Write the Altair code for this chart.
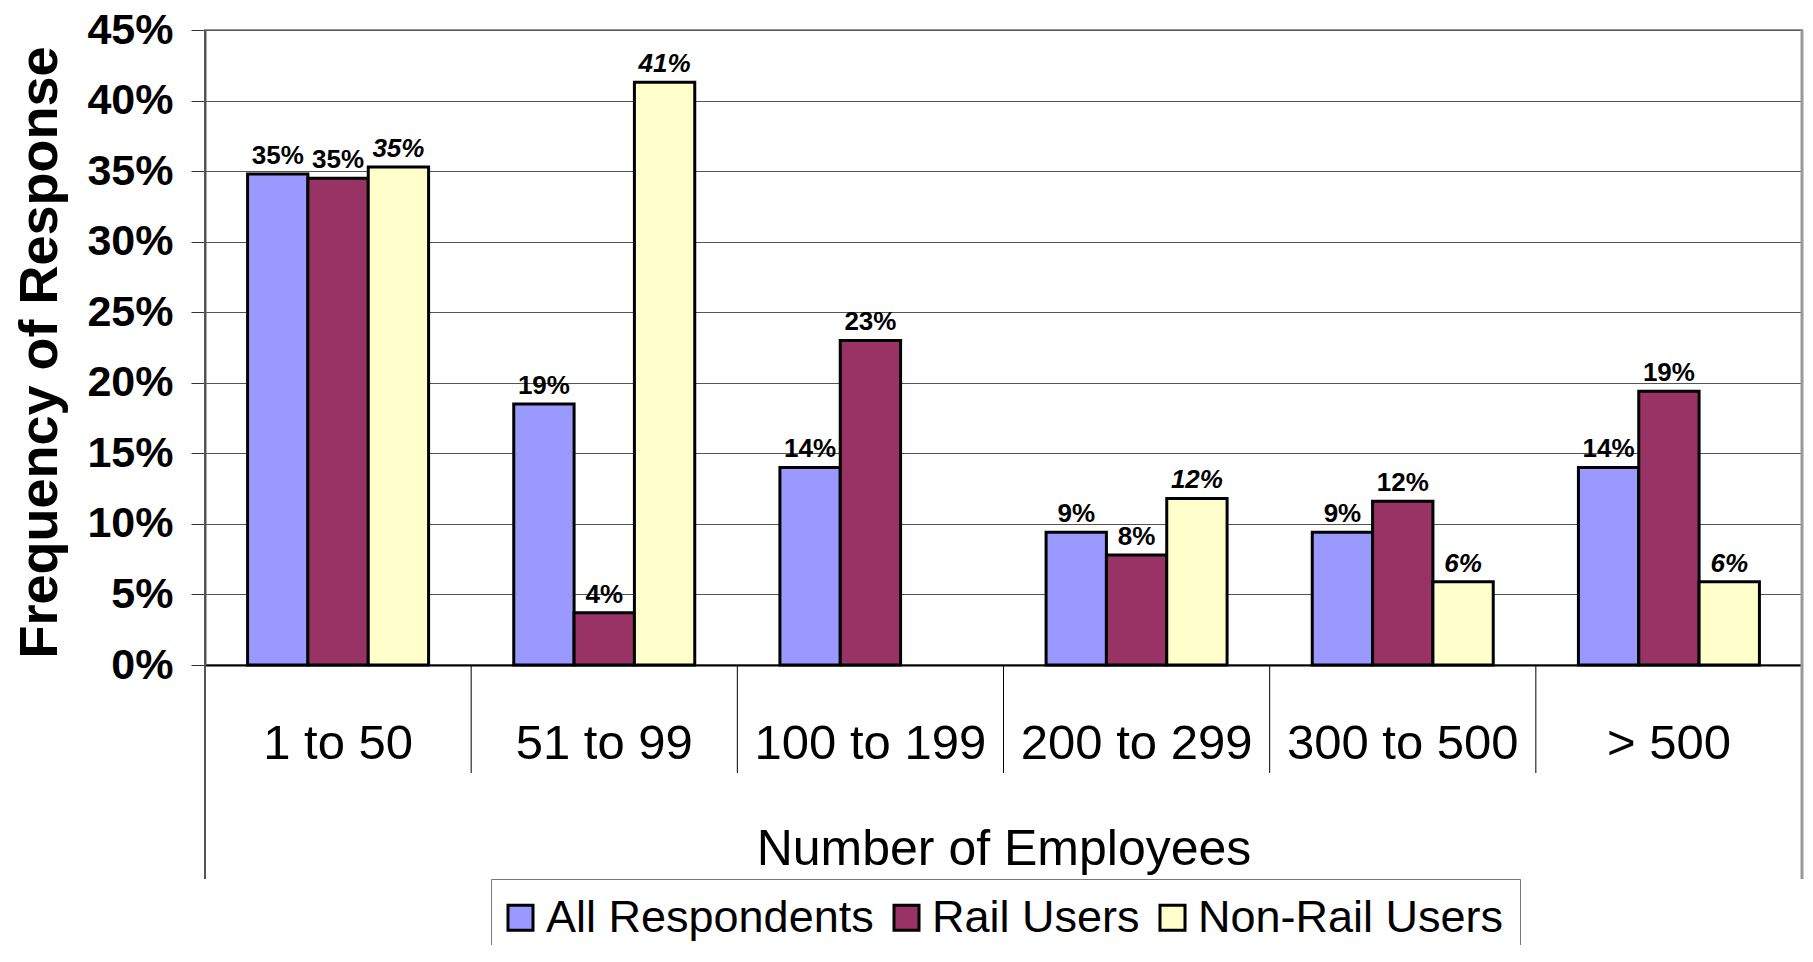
import altair as alt
import pandas as pd

categories = ["1 to 50", "51 to 99", "100 to 199", "200 to 299", "300 to 500", "> 500"]
series = ["All Respondents", "Rail Users", "Non-Rail Users"]
all_resp = [34.8, 18.5, 14.0, 9.4, 9.4, 14.0]
rail = [34.5, 3.7, 23.0, 7.8, 11.6, 19.4]
nonrail = [35.3, 41.3, 0.0, 11.8, 5.9, 5.9]
colors = ["#9999FF", "#993366", "#FFFFCC"]
y_ticks = [0, 5, 10, 15, 20, 25, 30, 35, 40, 45]
inner_bounds = [1, 2, 3, 4, 5]
left_bound = [0]
right_bound = [6]

rows = []
for s, vals in zip(series, [all_resp, rail, nonrail]):
    for c, v in zip(categories, vals):
        rows.append({"cat": c, "series": s, "value": v})
df = pd.DataFrame(rows)
df = df[df["value"] > 0]

W, H = 1597, 635
FONT = "Liberation Sans"

x_enc = alt.X(
    "cat:N", sort=categories,
    scale=alt.Scale(domain=categories, paddingInner=0.32, paddingOuter=0.16),
    axis=alt.Axis(
        title="Number of Employees", labelAngle=0, ticks=False,
        labelPadding=93, labelBaseline="alphabetic", labelFontSize=49,
        labelFont=FONT, labelColor="black", labelOverlap=False, labelLimit=1000,
        domainColor="black", domainWidth=2,
        titleFont=FONT, titleFontSize=50, titleFontWeight="normal", titleColor="black",
        titleY=199, titleBaseline="alphabetic",
    ),
)
xo_enc = alt.XOffset("series:N", sort=series, scale=alt.Scale(domain=series))
y_enc = alt.Y(
    "value:Q",
    scale=alt.Scale(domain=[0, 45], nice=False, zero=True),
    axis=alt.Axis(
        values=y_ticks, labelExpr="datum.value + '%'",
        title="Frequency of Response",
        labelFont=FONT, labelFontSize=43, labelFontWeight="bold", labelColor="black",
        labelPadding=18, tickSize=14, tickColor="#333", tickWidth=1,
        domainColor="#555", domainWidth=2,
        grid=True, gridColor="#555", gridWidth=1,
        titleFont=FONT, titleFontSize=54, titleFontWeight="bold", titleColor="black",
        titleAngle=270, titleX=-149, titleY=322, titleAlign="center",
        titleBaseline="alphabetic",
    ),
)

base = alt.Chart(df)

bars = base.mark_bar(stroke="black", strokeWidth=3).encode(
    x=x_enc, xOffset=xo_enc, y=y_enc,
    color=alt.Color(
        "series:N", scale=alt.Scale(domain=series, range=colors),
        legend=alt.Legend(
            title=None, orient="none", legendX=286, legendY=849,
            direction="horizontal", symbolType="square", symbolSize=625,
            symbolStrokeColor="black", symbolStrokeWidth=3, symbolOpacity=1,
            symbolOffset=-9,
            labelFont=FONT, labelFontSize=45, labelColor="black", labelLimit=1000,
            labelOffset=3, columnPadding=14, padding=16,
            strokeColor="#777", fillColor="white",
        ),
    ),
)

label_expr = "round(datum.value) + '%'"
text_plain = base.transform_filter(
    alt.datum.series != "Non-Rail Users"
).transform_calculate(lbl=label_expr).mark_text(
    font=FONT, fontSize=26, fontWeight="bold", baseline="alphabetic", dy=-10, color="black"
).encode(x=x_enc, xOffset=xo_enc, y=y_enc, text="lbl:N")

text_ital = base.transform_filter(
    alt.datum.series == "Non-Rail Users"
).transform_calculate(lbl=label_expr).mark_text(
    font=FONT, fontSize=26, fontWeight="bold", fontStyle="italic",
    baseline="alphabetic", dy=-10, color="black"
).encode(x=x_enc, xOffset=xo_enc, y=y_enc, text="lbl:N")

main = alt.layer(bars, text_plain, text_ital)

sep_scale = alt.Scale(domain=[0, 6], nice=False, zero=False)

sep = alt.Chart(pd.DataFrame({"b": inner_bounds})).mark_rule(color="black", strokeWidth=1).encode(
    x=alt.X("b:Q", scale=sep_scale, axis=None),
    y=alt.value(H), y2=alt.value(H + 108),
)
left = alt.Chart(pd.DataFrame({"b": left_bound})).mark_rule(color="#555", strokeWidth=2).encode(
    x=alt.X("b:Q", scale=sep_scale, axis=None),
    y=alt.value(0), y2=alt.value(H + 214),
)
right = alt.Chart(pd.DataFrame({"b": right_bound})).mark_rule(color="#999", strokeWidth=3).encode(
    x=alt.X("b:Q", scale=sep_scale, axis=None),
    y=alt.value(0), y2=alt.value(H + 214),
)
rules = alt.layer(sep, left, right)

chart = alt.layer(main, rules).resolve_scale(
    x="independent"
).properties(
    width=W, height=H,
    padding={"left": 197, "top": 22, "right": 2, "bottom": 280},
    autosize=alt.AutoSizeParams(type="none"),
).configure_view(stroke="#999", strokeWidth=2)

chart.save("out.html", embed_options={"renderer": "svg", "actions": False})
